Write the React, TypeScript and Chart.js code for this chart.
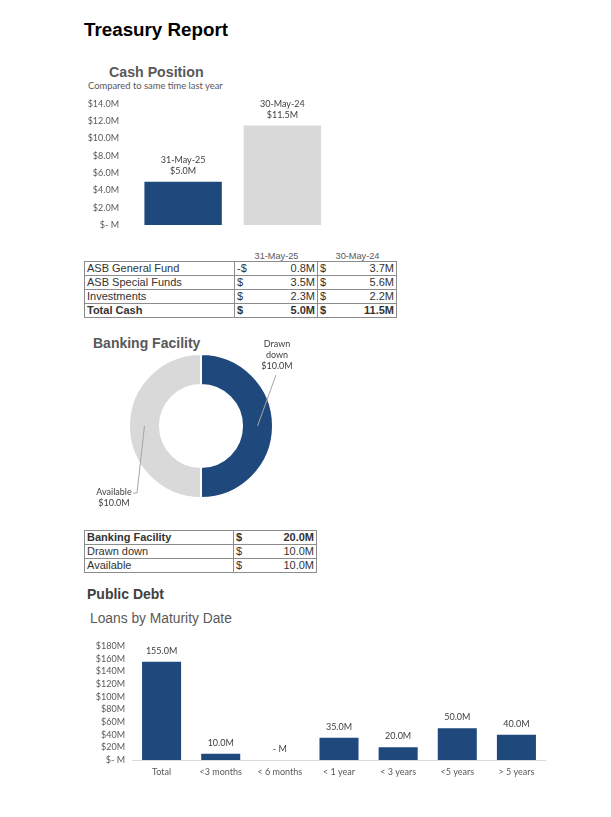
import React, { useEffect, useRef } from "react";
import { Chart, registerables } from "chart.js";

Chart.register(...registerables);

// ---------- data ----------
const cashDates = ["31-May-25", "30-May-24"];
const cashValues = [5.0, 11.5];

const fundNames = ["ASB General Fund", "ASB Special Funds", "Investments"];
const fundsCurrent = [-0.8, 3.5, 2.3];
const fundsPrior = [3.7, 5.6, 2.2];

const facilityLabels = ["Drawn down", "Available"];
const facilityValues = [10.0, 10.0];

const maturityLabels = ["Total", "<3 months", "< 6 months", "< 1 year", "< 3 years", "<5 years", "> 5 years"];
const maturityValues = [155.0, 10.0, 0, 35.0, 20.0, 50.0, 40.0];

// ---------- style ----------
const BLUE = "#1F497D";
const GRAY = "#D9D9D9";
const CF = "Lato, 'Noto Sans', sans-serif";
const ARIAL = "'Liberation Sans', Arial, sans-serif";

const fmtCash = (v: number) => (v === 0 ? "$- M" : `$${v.toFixed(1)}M`);
const fmtMoney = (v: number) => `${Math.abs(v).toFixed(1)}M`;

function CashChart() {
  const ref = useRef<HTMLCanvasElement>(null);
  useEffect(() => {
    const labelPlugin = {
      id: "cashLabels",
      afterDatasetsDraw(chart: any) {
        const ctx = chart.ctx;
        const meta = chart.getDatasetMeta(0);
        ctx.save();
        ctx.font = `9px ${CF}`;
        ctx.fillStyle = "#404040";
        ctx.textAlign = "center";
        ctx.textBaseline = "middle";
        meta.data.forEach((bar: any, i: number) => {
          const { x, y } = bar.getProps(["x", "y"], true);
          ctx.fillText(cashDates[i], x, y - 21.5);
          ctx.fillText(fmtCash(cashValues[i]), x, y - 11);
        });
        ctx.restore();
      },
    };
    const chart = new Chart(ref.current!, {
      type: "bar",
      data: {
        labels: cashDates,
        datasets: [
          {
            data: cashValues,
            backgroundColor: [BLUE, GRAY],
            categoryPercentage: 1,
            barPercentage: 0.78,
          },
        ],
      },
      options: {
        animation: false,
        responsive: false,
        maintainAspectRatio: false,
        layout: { padding: { top: 10, bottom: 8, left: 0, right: 0 } },
        plugins: { legend: { display: false }, tooltip: { enabled: false } },
        scales: {
          x: { display: false },
          y: {
            min: 0,
            max: 14,
            ticks: {
              stepSize: 2,
              autoSkip: false,
              callback: (v: any) => fmtCash(Number(v)),
              font: { family: CF, size: 9 },
              color: "#595959",
              padding: 14.5,
            },
            grid: { display: false, drawTicks: false },
            border: { display: false },
            afterFit: (s: any) => {
              s.width = 49.5;
              s.paddingTop = 0;
              s.paddingBottom = 0;
            },
          },
        },
      } as any,
      plugins: [labelPlugin],
    });
    return () => chart.destroy();
  }, []);
  return (
    <canvas
      ref={ref}
      width={248}
      height={139}
      style={{ position: "absolute", left: 84, top: 94, width: 248, height: 139 }}
    />
  );
}

function FacilityChart() {
  const ref = useRef<HTMLCanvasElement>(null);
  useEffect(() => {
    const anchors = [
      { tx: 76, ty: -82, lx1: 75, ly1: -51, lx0: 75, ly0: -51 },
      { tx: -87, ty: 66, lx1: -64, ly1: 67, lx0: -68, ly0: 67 },
    ];
    const labelPlugin = {
      id: "donutLabels",
      afterDatasetsDraw(chart: any) {
        const ctx = chart.ctx;
        const meta = chart.getDatasetMeta(0);
        ctx.save();
        meta.data.forEach((arc: any, i: number) => {
          const p = arc.getProps(["x", "y", "startAngle", "endAngle", "innerRadius", "outerRadius"], true);
          const mid = (p.startAngle + p.endAngle) / 2;
          const r = (p.innerRadius + p.outerRadius) / 2;
          const px = p.x + Math.cos(mid) * r;
          const py = p.y + Math.sin(mid) * r;
          const a = anchors[i];
          ctx.strokeStyle = "#A6A6A6";
          ctx.lineWidth = 1;
          ctx.beginPath();
          ctx.moveTo(p.x + a.lx0, p.y + a.ly0);
          ctx.lineTo(p.x + a.lx1, p.y + a.ly1);
          ctx.lineTo(px, py);
          ctx.stroke();
          const lines = i === 0 ? facilityLabels[i].split(" ") : [facilityLabels[i]];
          lines.push(fmtCash(facilityValues[i]));
          ctx.font = `9px ${CF}`;
          ctx.fillStyle = "#404040";
          ctx.textAlign = "center";
          ctx.textBaseline = "middle";
          lines.forEach((t: string, k: number) => {
            ctx.fillText(t, p.x + a.tx, p.y + a.ty + k * 11);
          });
        });
        ctx.restore();
      },
    };
    const chart = new Chart(ref.current!, {
      type: "doughnut",
      data: {
        labels: facilityLabels,
        datasets: [
          {
            data: facilityValues,
            backgroundColor: [BLUE, GRAY],
            borderColor: "#ffffff",
            borderWidth: 2,
          },
        ],
      },
      options: {
        animation: false,
        responsive: false,
        maintainAspectRatio: false,
        cutout: "57%",
        layout: { padding: { top: 18, bottom: 18, left: 38, right: 38 } },
        plugins: { legend: { display: false }, tooltip: { enabled: false } },
      } as any,
      plugins: [labelPlugin],
    });
    return () => chart.destroy();
  }, []);
  return (
    <canvas
      ref={ref}
      width={222}
      height={182}
      style={{ position: "absolute", left: 90, top: 335, width: 222, height: 182 }}
    />
  );
}

function MaturityChart() {
  const ref = useRef<HTMLCanvasElement>(null);
  useEffect(() => {
    const labelPlugin = {
      id: "barLabels",
      afterDatasetsDraw(chart: any) {
        const ctx = chart.ctx;
        const meta = chart.getDatasetMeta(0);
        ctx.save();
        ctx.font = `9px ${CF}`;
        ctx.fillStyle = "#404040";
        ctx.textAlign = "center";
        ctx.textBaseline = "middle";
        meta.data.forEach((bar: any, i: number) => {
          const { x, y } = bar.getProps(["x", "y"], true);
          const v = maturityValues[i];
          ctx.fillText(v === 0 ? "- M" : `${v.toFixed(1)}M`, x, y - 11);
        });
        ctx.restore();
      },
    };
    const chart = new Chart(ref.current!, {
      type: "bar",
      data: {
        labels: maturityLabels,
        datasets: [
          {
            data: maturityValues,
            backgroundColor: BLUE,
            categoryPercentage: 1,
            barPercentage: 0.66,
          },
        ],
      },
      options: {
        animation: false,
        responsive: false,
        maintainAspectRatio: false,
        layout: { padding: { top: 10, bottom: 0, left: 0, right: 0 } },
        plugins: { legend: { display: false }, tooltip: { enabled: false } },
        scales: {
          x: {
            ticks: { font: { family: CF, size: 9 }, color: "#595959", padding: 7, maxRotation: 0, autoSkip: false },
            grid: { display: false, drawTicks: false },
            border: { display: true, color: "#D9D9D9", width: 1 },
            afterFit: (s: any) => {
              s.height = 22;
              s.paddingLeft = 0;
              s.paddingRight = 0;
            },
          },
          y: {
            min: 0,
            max: 180,
            ticks: {
              stepSize: 20,
              autoSkip: false,
              callback: (v: any) => (Number(v) === 0 ? "$- M" : `$${v}M`),
              font: { family: CF, size: 9 },
              color: "#595959",
              padding: 7,
            },
            grid: { display: false, drawTicks: false },
            border: { display: false },
            afterFit: (s: any) => {
              s.width = 48;
              s.paddingTop = 0;
              s.paddingBottom = 0;
            },
          },
        },
      } as any,
      plugins: [labelPlugin],
    });
    return () => chart.destroy();
  }, []);
  return (
    <canvas
      ref={ref}
      width={462}
      height={146}
      style={{ position: "absolute", left: 84, top: 636, width: 462, height: 146 }}
    />
  );
}

function Txt(props: { x: number; cy: number; size: number; bold?: boolean; color?: string; family?: string; children: any }) {
  const { x, cy, size, bold, color, family, children } = props;
  return (
    <div
      style={{
        position: "absolute",
        left: x,
        top: cy - size / 2,
        fontSize: size,
        lineHeight: `${size}px`,
        fontWeight: bold ? 700 : 400,
        color: color || "#000",
        fontFamily: family || ARIAL,
        whiteSpace: "nowrap",
      }}
    >
      {children}
    </div>
  );
}

const cellBase: React.CSSProperties = {
  boxSizing: "border-box",
  borderRight: "1px solid #8C8C8C",
  borderBottom: "1px solid #8C8C8C",
  padding: "0 2px",
  overflow: "hidden",
  whiteSpace: "nowrap",
  display: "flex",
  alignItems: "center",
};

function MoneyCell(props: { v: number; bold?: boolean }) {
  const { v, bold } = props;
  return (
    <div style={{ ...cellBase, justifyContent: "space-between", fontWeight: bold ? 700 : 400 }}>
      <span>{v < 0 ? "-$" : "$"}</span>
      <span>{fmtMoney(v)}</span>
    </div>
  );
}

function CashTable() {
  const totCur = fundsCurrent.reduce((a, b) => a + b, 0);
  const totPrior = fundsPrior.reduce((a, b) => a + b, 0);
  const cols = "150px 83px 79px";
  return (
    <>
      <div
        style={{
          position: "absolute",
          left: 85,
          top: 250,
          display: "grid",
          gridTemplateColumns: cols,
          fontFamily: ARIAL,
          fontSize: 9.2,
          lineHeight: "12px",
          color: "#595959",
        }}
      >
        <div />
        <div style={{ textAlign: "center" }}>{cashDates[0]}</div>
        <div style={{ textAlign: "center" }}>{cashDates[1]}</div>
      </div>
      <div
        style={{
          position: "absolute",
          left: 84,
          top: 261,
          display: "grid",
          gridTemplateColumns: cols,
          gridAutoRows: "14px",
          borderTop: "1px solid #8C8C8C",
          borderLeft: "1px solid #8C8C8C",
          fontFamily: ARIAL,
          fontSize: 11,
          lineHeight: "13px",
          color: "#333",
        }}
      >
        {fundNames.map((n, i) => (
          <React.Fragment key={n}>
            <div style={cellBase}>{n}</div>
            <MoneyCell v={fundsCurrent[i]} />
            <MoneyCell v={fundsPrior[i]} />
          </React.Fragment>
        ))}
        <div style={{ ...cellBase, fontWeight: 700 }}>Total Cash</div>
        <MoneyCell v={totCur} bold />
        <MoneyCell v={totPrior} bold />
      </div>
    </>
  );
}

function FacilityTable() {
  const total = facilityValues.reduce((a, b) => a + b, 0);
  return (
    <div
      style={{
        position: "absolute",
        left: 84,
        top: 530,
        display: "grid",
        gridTemplateColumns: "149px 83px",
        gridAutoRows: "14px",
        borderTop: "1px solid #8C8C8C",
        borderLeft: "1px solid #8C8C8C",
        fontFamily: ARIAL,
        fontSize: 11,
        lineHeight: "13px",
        color: "#333",
      }}
    >
      <div style={{ ...cellBase, fontWeight: 700 }}>Banking Facility</div>
      <MoneyCell v={total} bold />
      {facilityLabels.map((n, i) => (
        <React.Fragment key={n}>
          <div style={cellBase}>{n}</div>
          <MoneyCell v={facilityValues[i]} />
        </React.Fragment>
      ))}
    </div>
  );
}

export default function App() {
  return (
    <div style={{ position: "absolute", left: 0, top: 0, width: 611, height: 817, background: "#fff", overflow: "hidden" }}>
      <Txt x={84} cy={30} size={18.8} bold>
        Treasury Report
      </Txt>
      <Txt x={109} cy={72} size={14.2} bold color="#595959">
        Cash Position
      </Txt>
      <Txt x={88} cy={86} size={9.4} color="#595959" family={CF}>
        Compared to same time last year
      </Txt>
      <CashChart />
      <CashTable />
      <Txt x={93} cy={343} size={14} bold color="#595959">
        Banking Facility
      </Txt>
      <FacilityChart />
      <FacilityTable />
      <Txt x={87} cy={594} size={14} bold color="#404040">
        Public Debt
      </Txt>
      <Txt x={90} cy={619} size={13.8} color="#595959">
        Loans by Maturity Date
      </Txt>
      <MaturityChart />
    </div>
  );
}
